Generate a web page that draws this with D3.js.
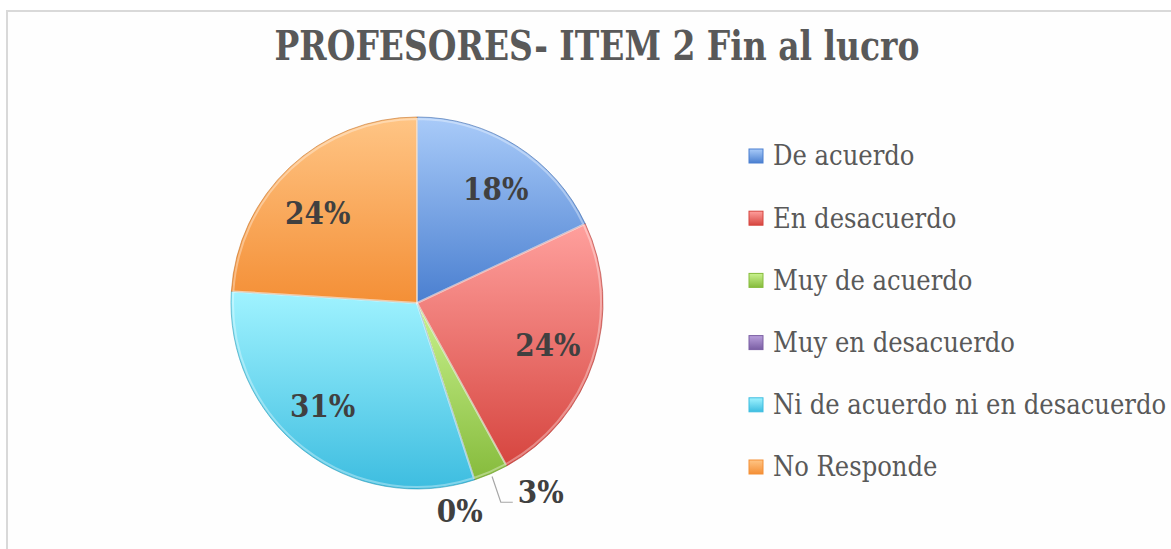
<!DOCTYPE html>
<html>
<head>
<meta charset="utf-8">
<script src="https://cdn.jsdelivr.net/npm/d3@7"></script>
<style>
  body { margin: 0; background: #fff; }
  svg { display: block; }
</style>
</head>
<body>
<div id="chart"></div>
<script>
// data
var categories = ["De acuerdo", "En desacuerdo", "Muy de acuerdo", "Muy en desacuerdo",
                  "Ni de acuerdo ni en desacuerdo", "No Responde"];
var values = [18, 24, 3, 0, 31, 24];
var labels = ["18%", "24%", "3%", "0%", "31%", "24%"];
var title = "PROFESORES- ITEM 2 Fin al lucro";

// light (top) / dark (bottom) colours of each slice
var lightColors = ["#a9cbf9", "#ffa09d", "#c9f28e", "#b9a0dc", "#a0f3ff", "#ffc585"];
var darkColors  = ["#4a7fd0", "#d6453f", "#86bb3c", "#7a5ea3", "#3dbde0", "#f48f36"];

var width = 1171, height = 549;
var cx = 417, cy = 303, radius = 186;
var font = "DejaVu Serif Condensed, DejaVu Serif, serif";

var svg = d3.select("#chart")
  .append("svg")
    .attr("width", width)
    .attr("height", height);

// chart frame
svg.append("rect")
  .attr("x", 7).attr("y", 11)
  .attr("width", 1300).attr("height", 700)
  .attr("fill", "#fefefe")
  .attr("stroke", "#d9d9d9")
  .attr("stroke-width", 2);

// gradients, one per category
var defs = svg.append("defs");
categories.forEach(function(c, i) {
  var g = defs.append("linearGradient")
    .attr("id", "grad" + i)
    .attr("x1", 0).attr("y1", 0).attr("x2", 0).attr("y2", 1);
  g.append("stop").attr("offset", "0%").attr("stop-color", lightColors[i]);
  g.append("stop").attr("offset", "100%").attr("stop-color", darkColors[i]);
});

// title
svg.append("text")
  .attr("x", 597)
  .attr("y", 60)
  .attr("text-anchor", "middle")
  .attr("font-family", font)
  .attr("font-weight", "bold")
  .attr("font-size", 41)
  .attr("textLength", 645)
  .attr("lengthAdjust", "spacingAndGlyphs")
  .attr("fill", "#595959")
  .text(title);

// pie
var pie = d3.pie().sort(null).value(function(d) { return d; });
var arcs = pie(values);

var arc = d3.arc().innerRadius(0).outerRadius(radius);
var labelArc = d3.arc().innerRadius(radius * 0.74).outerRadius(radius * 0.74);
var outerArc = d3.arc().innerRadius(radius + 30).outerRadius(radius + 30);

var g = svg.append("g")
  .attr("transform", "translate(" + cx + "," + cy + ")");

g.selectAll("path.slice")
  .data(arcs)
  .enter()
  .append("path")
    .attr("class", "slice")
    .attr("d", arc)
    .attr("fill", function(d, i) { return "url(#grad" + i + ")"; })
    .attr("stroke", function(d, i) { return d3.color(darkColors[i]).darker(0.6); })
    .attr("stroke-opacity", 0.6)
    .attr("stroke-width", 1);

// soft inner highlight (bevel look)
g.selectAll("path.bevel")
  .data(arcs.filter(function(d) { return d.value > 0; }))
  .enter()
  .append("path")
    .attr("class", "bevel")
    .attr("d", d3.arc().innerRadius(0).outerRadius(radius - 2))
    .attr("fill", "none")
    .attr("stroke", "#ffffff")
    .attr("stroke-opacity", 0.35)
    .attr("stroke-width", 2);

// labels inside the big slices, small ones outside (small nudges like Excel)
var small = function(d) { return d.value < 5; };
var offsets = { 0: [5, 2], 2: [38, -9], 3: [-24, 3], 4: [-10, -6], 5: [-5, 10] };

g.selectAll("text.lbl")
  .data(arcs)
  .enter()
  .append("text")
    .attr("class", "lbl")
    .attr("transform", function(d) {
      var p = small(d) ? outerArc.centroid(d) : labelArc.centroid(d);
      var o = offsets[d.index] || [0, 0];
      return "translate(" + (p[0] + o[0]) + "," + (p[1] + o[1]) + ")";
    })
    .attr("text-anchor", "middle")
    .attr("dy", "0.35em")
    .attr("font-family", font)
    .attr("font-weight", "bold")
    .attr("font-size", 31)
    .attr("fill", "#404040")
    .text(function(d) { return labels[d.index]; });

// leader line for the 3% label
var green = arcs[2];
var edge = d3.arc().innerRadius(radius + 3).outerRadius(radius + 3).centroid(green);
var lp = outerArc.centroid(green);
g.append("polyline")
  .attr("points", [
      [edge[0], edge[1]],
      [lp[0] - 2, lp[1] + 1],
      [lp[0] + 10, lp[1] + 1]
    ].map(function(p) { return p.join(","); }).join(" "))
  .attr("fill", "none")
  .attr("stroke", "#a6a6a6")
  .attr("stroke-width", 1.2);

// legend
var legend = svg.append("g")
  .attr("transform", "translate(749,156)");

var item = legend.selectAll("g.item")
  .data(categories)
  .enter()
  .append("g")
    .attr("class", "item")
    .attr("transform", function(d, i) { return "translate(0," + (i * 62.2) + ")"; });

item.append("rect")
  .attr("x", 0).attr("y", -7)
  .attr("width", 14).attr("height", 14)
  .attr("fill", function(d, i) { return "url(#grad" + i + ")"; })
  .attr("stroke", function(d, i) { return darkColors[i]; })
  .attr("stroke-width", 1);

item.append("text")
  .attr("x", 24)
  .attr("dy", "0.35em")
  .attr("font-family", font)
  .attr("font-size", 27)
  .attr("fill", "#595959")
  .text(function(d) { return d; });
</script>
</body>
</html>
